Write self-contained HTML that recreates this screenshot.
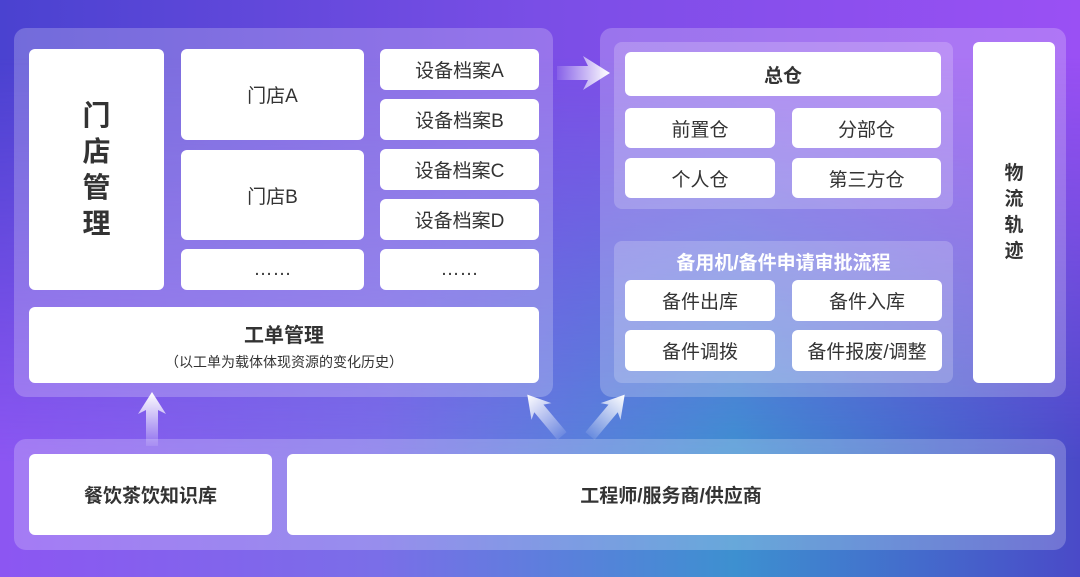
<!DOCTYPE html>
<html><head><meta charset="utf-8"><style>
*{margin:0;padding:0;box-sizing:border-box}
body{width:1080px;height:577px;overflow:hidden;position:relative;font-family:"Liberation Sans","Noto Sans CJK SC",sans-serif;background:linear-gradient(to right,#4a42d0,#7a4ee6 50%,#9a50f4)}
.bg2{position:absolute;inset:0;background:linear-gradient(to right,#8c56f2 0%,#7a6ee8 35%,#3d90d0 68%,#4a4ac8 100%);-webkit-mask-image:linear-gradient(to bottom,transparent 10%,black 80%);mask-image:linear-gradient(to bottom,transparent 10%,black 80%)}
.p{position:absolute;border-radius:12px;background:rgba(255,255,255,0.22)}
.s{position:absolute;border-radius:8px;background:rgba(255,255,255,0.2)}
.b{position:absolute;background:#fff;border-radius:6px;display:flex;align-items:center;justify-content:center;color:#333;font-size:19px;text-align:center}
.bold{font-weight:bold}
svg{position:absolute;left:0;top:0}
</style></head><body>
<div class="bg2"></div>
<div class="p" style="left:14px;top:28px;width:539px;height:369px"></div>
<div class="p" style="left:600px;top:28px;width:466px;height:369px"></div>
<div class="p" style="left:14px;top:439px;width:1052px;height:111px"></div>
<div class="s" style="left:614px;top:42px;width:339px;height:167px"></div>
<div class="s" style="left:614px;top:241px;width:339px;height:142px"></div>

<div class="b bold" style="left:29px;top:49px;width:135px;height:241px;font-size:28px;line-height:36px">门<br>店<br>管<br>理</div>
<div class="b" style="left:181px;top:49px;width:183px;height:91px">门店A</div>
<div class="b" style="left:181px;top:150px;width:183px;height:90px">门店B</div>
<div class="b" style="left:181px;top:249px;width:183px;height:41px">……</div>
<div class="b" style="left:380px;top:49px;width:159px;height:41px">设备档案A</div>
<div class="b" style="left:380px;top:99px;width:159px;height:41px">设备档案B</div>
<div class="b" style="left:380px;top:149px;width:159px;height:41px">设备档案C</div>
<div class="b" style="left:380px;top:199px;width:159px;height:41px">设备档案D</div>
<div class="b" style="left:380px;top:249px;width:159px;height:41px">……</div>
<div class="b" style="left:29px;top:307px;width:510px;height:76px;flex-direction:column"><div class="bold" style="font-size:20px">工单管理</div><div style="font-size:14px;margin-top:4px">（以工单为载体体现资源的变化历史）</div></div>

<div class="b bold" style="left:625px;top:52px;width:316px;height:44px">总仓</div>
<div class="b" style="left:625px;top:108px;width:150px;height:40px">前置仓</div>
<div class="b" style="left:792px;top:108px;width:149px;height:40px">分部仓</div>
<div class="b" style="left:625px;top:158px;width:150px;height:40px">个人仓</div>
<div class="b" style="left:792px;top:158px;width:149px;height:40px">第三方仓</div>
<div style="position:absolute;left:614px;top:248px;width:339px;text-align:center;color:#fff;font-weight:bold;font-size:19px">备用机/备件申请审批流程</div>
<div class="b" style="left:625px;top:280px;width:150px;height:41px">备件出库</div>
<div class="b" style="left:792px;top:280px;width:150px;height:41px">备件入库</div>
<div class="b" style="left:625px;top:330px;width:150px;height:41px">备件调拨</div>
<div class="b" style="left:792px;top:330px;width:150px;height:41px">备件报废/调整</div>
<div class="b bold" style="left:973px;top:42px;width:82px;height:341px;line-height:26px">物<br>流<br>轨<br>迹</div>

<div class="b bold" style="left:29px;top:454px;width:243px;height:81px">餐饮茶饮知识库</div>
<div class="b bold" style="left:287px;top:454px;width:768px;height:81px">工程师/服务商/供应商</div>

<svg width="1080" height="577">
<defs>
<linearGradient id="gr" x1="0" x2="1"><stop offset="0" stop-color="#fff" stop-opacity="0.1"/><stop offset="1" stop-color="#fff"/></linearGradient>
<linearGradient id="gu" x1="0" y1="1" x2="0" y2="0"><stop offset="0" stop-color="#fff" stop-opacity="0.1"/><stop offset="1" stop-color="#fff"/></linearGradient>
</defs>
<polygon points="557,66 588,66 583,56 610,73 583,90 588,80 557,80" fill="url(#gr)"/>
<polygon points="146,446 146,410 138,414 152,392 166,414 158,410 158,446" fill="url(#gu)"/>
<g transform="translate(562,436) rotate(-40)"><polygon points="-6,0 -6,-36 -13,-32 0,-54 13,-32 6,-36 6,0" fill="url(#gu)"/></g>
<g transform="translate(590,436) rotate(40)"><polygon points="-6,0 -6,-36 -13,-32 0,-54 13,-32 6,-36 6,0" fill="url(#gu)"/></g>
</svg>
</body></html>
